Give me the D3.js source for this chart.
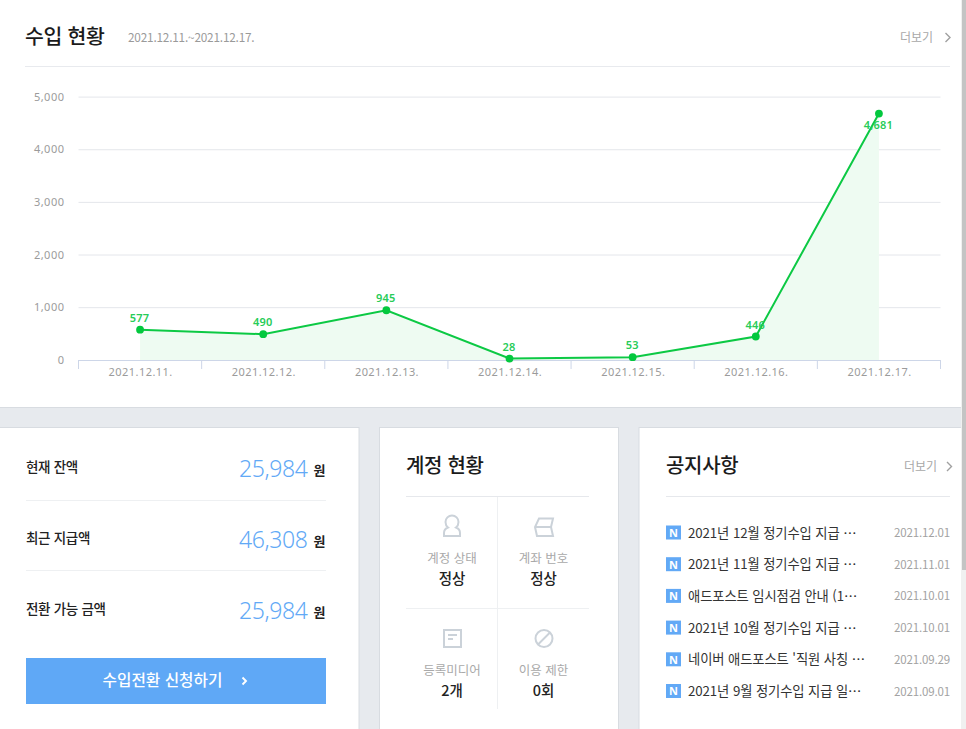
<!DOCTYPE html>
<html lang="ko"><head><meta charset="utf-8">
<script src="https://cdn.jsdelivr.net/npm/d3@7/dist/d3.min.js"></script>
<style>html,body{margin:0;padding:0;background:#fff;overflow:hidden}svg{display:block}text{font-family:"Noto Sans CJK KR","Noto Sans",sans-serif}</style>
</head><body><div id="c"></div>
<script>
const categories=["2021.12.11.","2021.12.12.","2021.12.13.","2021.12.14.","2021.12.15.","2021.12.16.","2021.12.17."];
const revenue=[577,490,945,28,53,446,4681];
const yTicks=[0,1000,2000,3000,4000,5000];
const balanceLabels=["현재 잔액","최근 지급액","전환 가능 금액"];
const balanceValues=["25,984","46,308","25,984"];
const statusLabels=["계정 상태","계좌 번호","등록미디어","이용 제한"];
const statusValues=["정상","정상","2개","0회"];
const noticeTitles=["2021년 12월 정기수입 지급 ⋯","2021년 11월 정기수입 지급 ⋯","애드포스트 임시점검 안내 (1⋯","2021년 10월 정기수입 지급 ⋯","네이버 애드포스트 '직원 사칭 ⋯","2021년 9월 정기수입 지급 일⋯"];
const noticeDates=["2021.12.01","2021.11.01","2021.10.01","2021.10.01","2021.09.29","2021.09.01"];

const svg=d3.select("#c").append("svg").attr("width",966).attr("height",729);
const T=(x,y,s,size,fill,anchor,weight,ls)=>svg.append("text").attr("x",x).attr("y",y).text(s)
  .attr("font-size",size).attr("fill",fill).attr("text-anchor",anchor||"start").attr("font-weight",weight||400).attr("letter-spacing",ls||0);
const R=(x,y,w,h,f,st)=>svg.append("rect").attr("x",x).attr("y",y).attr("width",w).attr("height",h).attr("fill",f).attr("stroke",st||"none");
const L=(x1,y1,x2,y2,c)=>svg.append("line").attr("x1",x1).attr("y1",y1).attr("x2",x2).attr("y2",y2).attr("stroke",c).attr("stroke-width",1);
const chev=(x,y,c,w,s)=>{s=s||4.5;return svg.append("path").attr("d",`M${x},${y-s}L${x+s},${y}L${x},${y+s}`).attr("fill","none").attr("stroke",c).attr("stroke-width",w||1.4);};

// page
R(0,0,966,729,"#e7eaee");
R(0,0,961,407,"#fff");
L(0,407.5,961,407.5,"#d8dce1");
R(-2,427.5,361,320,"#fff","#d8dce1");
R(379.5,427.5,239,320,"#fff","#d8dce1");
R(639,427.5,340,320,"#fff","#d8dce1");
// scrollbar
R(961,0,5,729,"#f0f0f0");
R(962,0,4,570,"#c4c4c4");

// header
T(25,44,"수입 현황",20.5,"#1b1b1b","start",500,-0.3);
T(128,41.5,"2021.12.11.~2021.12.17.",11.8,"#9a9a9a","start",400,-0.2);
T(900,42,"더보기",12,"#a8a8a8");
chev(945.5,37.5,"#a0a0a0");
L(25,66.5,950,66.5,"#e8eaee");

// chart
const x=d3.scaleBand().domain(categories).range([78.5,940.5]);
const y=d3.scaleLinear().domain([0,5000]).range([360,96.8]);
const cx=d=>x(d)+x.bandwidth()/2;
const data=categories.map((c,i)=>({c,v:revenue[i]}));

const gy=svg.append("g").attr("transform","translate(78.5,0)")
  .call(d3.axisLeft(y).tickValues(yTicks).tickFormat(d3.format(",")).tickSize(0).tickPadding(14));
gy.select(".domain").remove();
gy.selectAll("text").attr("font-size",11).attr("fill","#9b9b9b").attr("letter-spacing",0.5).style("font-family","'Noto Sans',sans-serif");
svg.append("g").selectAll("line").data(yTicks.filter(d=>d>0)).join("line")
  .attr("x1",78.5).attr("x2",940.5).attr("y1",d=>y(d)+.3).attr("y2",d=>y(d)+.3).attr("stroke","#e4e6eb");

svg.append("path").datum(data).attr("fill","#eefbf2")
  .attr("d",d3.area().x(d=>cx(d.c)).y0(y(0)).y1(d=>y(d.v)));

const gx=svg.append("g").attr("transform","translate(0,360.5)")
  .call(d3.axisBottom(x).tickSize(0).tickPadding(8));
gx.select(".domain").attr("stroke","#cdd6e8").attr("d","M78.5,0H940.5");
gx.selectAll("text").attr("dx",0.6).attr("font-size",11).attr("fill","#9b9b9b").attr("letter-spacing",0.45).style("font-family","'Noto Sans',sans-serif");
svg.append("g").selectAll("line").data(categories.concat([null])).join("line")
  .attr("x1",d=>d?x(d):x.range()[1]).attr("x2",d=>d?x(d):x.range()[1]).attr("y1",360).attr("y2",369).attr("stroke","#cdd6e8");

svg.append("path").datum(data).attr("fill","none").attr("stroke","#0cc944").attr("stroke-width",2)
  .attr("d",d3.line().x(d=>cx(d.c)).y(d=>y(d.v)));
svg.append("g").selectAll("circle").data(data).join("circle")
  .attr("cx",d=>cx(d.c)).attr("cy",d=>y(d.v)).attr("r",3.9).attr("fill","#03c83e");
svg.append("g").selectAll("text").data(data).join("text")
  .attr("x",d=>cx(d.c)-0.5).attr("y",d=>d.v>4000?y(d.v)+15:y(d.v)-8)
  .attr("text-anchor","middle").attr("font-size",11).attr("font-weight",600).attr("fill","#27cc58").attr("letter-spacing",0.2)
  .style("font-family","'Noto Sans',sans-serif")
  .text(d=>d3.format(",")(d.v));

// balance card
balanceLabels.forEach((s,i)=>{
  const b=[472,543,614][i];
  T(26,b,s,13.5,"#222","start",500,-0.3);
  T(307.5,b+5,balanceValues[i],23,"#62a9f6","end",300,-0.4).style("font-family","'Noto Sans',sans-serif");
  T(313.5,b+3,"원",13,"#222","start",700);
});
L(26,500.5,326,500.5,"#eef0f2");
L(26,570.5,326,570.5,"#eef0f2");
R(26,658,300,46,"#5fa8f6");
T(162.5,686,"수입전환 신청하기",15.7,"#fff","middle",500);
chev(242.5,681,"#fff",1.9,3.5);

// account card
T(406,473,"계정 현황",20,"#1b1b1b","start",500,-0.3);
L(406,496.5,589,496.5,"#e6e8ec");
L(406,608.5,589,608.5,"#eef0f2");
L(497.5,497,497.5,709,"#eef0f2");
statusLabels.forEach((s,i)=>{
  const cxx=i%2?543.5:452, yy=i<2?0:112;
  T(cxx,563+yy,s,12.5,"#a9a9a9","middle",400);
  T(cxx,584+yy,statusValues[i],14.5,"#222","middle",500);
});
const ic="#cbd2d9";
const P=(d)=>svg.append("path").attr("d",d).attr("fill","none").attr("stroke",ic).attr("stroke-width",2);
P("M444,533 q0,-4 4,-5.5 q-2.5,-2 -2.5,-5.5 a6.5,6.5 0 0 1 13,0 q0,3.5 -2.5,5.5 q4,1.5 4,5.5 v3 h-16 z");
P("M539,518.5 h14 l-2,8.5 l2,9 h-16 l-2,-9 z M535,527 h16");
P("M444,630 h17 v17 h-17 z M448,635 h9 M448,639 h5");
svg.append("circle").attr("cx",544).attr("cy",638.5).attr("r",8.5).attr("fill","none").attr("stroke",ic).attr("stroke-width",2);
P("M538,644.5 L550,632.5");

// notice card
T(666,473,"공지사항",20,"#1b1b1b","start",500,-0.3);
T(904,471,"더보기",12,"#a8a8a8");
chev(947,466.5,"#a0a0a0");
L(666,496.5,950,496.5,"#e6e8ec");
noticeTitles.forEach((s,i)=>{
  const yy=532.5+i*31.7;
  R(666,yy-7,15,14,"#62a9f6");
  T(673.5,yy+4.3,"N",11,"#fff","middle",700).style("font-family","'Noto Sans',sans-serif");
  T(688,yy+5,s,13.3,"#333","start",400,-0.1);
  T(950,yy+4.5,noticeDates[i],11.5,"#a2a2a2","end",400,-0.15);
});
</script></body></html>
